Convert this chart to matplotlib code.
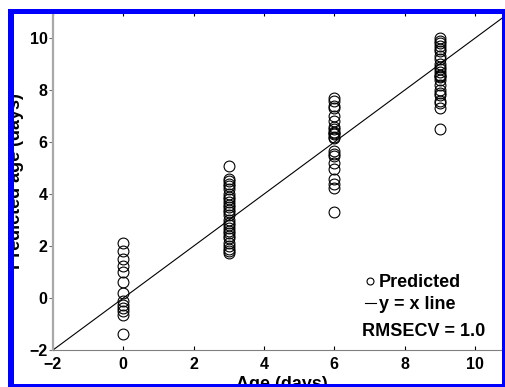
import matplotlib
matplotlib.use("Agg")
import matplotlib.pyplot as plt
from matplotlib.patches import Rectangle
from matplotlib.lines import Line2D

plt.rcParams['font.family'] = ['Liberation Sans', 'DejaVu Sans']
plt.rcParams['font.weight'] = 'bold'

# measured age (days) and cross-validated predictions
age_0 = [2.1, 1.8, 1.5, 1.25, 1.0, 0.6, 0.2, -0.1, -0.25, -0.4, -0.5, -0.65, -1.4]
age_3 = [5.1, 4.6, 4.5, 4.4, 4.3, 4.2, 4.0, 3.9, 3.8, 3.7, 3.6, 3.5, 3.4, 3.3,
         3.2, 3.0, 2.9, 2.8, 2.7, 2.6, 2.5, 2.4, 2.3, 2.1, 2.0, 1.9, 1.8, 1.75]
age_6 = [7.7, 7.6, 7.4, 7.3, 7.0, 6.8, 6.6, 6.5, 6.4, 6.35, 6.3, 6.2, 6.15,
         5.65, 5.55, 5.45, 5.2, 4.95, 4.6, 4.4, 4.25, 3.3]
age_9 = [10.0, 9.9, 9.8, 9.7, 9.6, 9.5, 9.3, 9.2, 9.0, 8.9, 8.8, 8.7, 8.6,
         8.55, 8.5, 8.4, 8.2, 8.0, 7.9, 7.8, 7.6, 7.5, 7.3, 6.5]
groups = {0: age_0, 3: age_3, 6: age_6, 9: age_9}
line_x = [-2, 11]
rmsecv = 1.0
ticks = [-2, 0, 2, 4, 6, 8, 10]

W, H = 505, 387
fig = plt.figure(figsize=(W / 100, H / 100), dpi=100)
ax = fig.add_axes([53 / W, 37 / H, 457 / W, 337.7 / H])

xs, ys = [], []
for k, vals in groups.items():
    xs += [k] * len(vals)
    ys += vals
ax.plot(xs, ys, 'o', mfc='none', mec='black', ms=7.8, mew=0.8, zorder=3)
ax.plot(line_x, line_x, color='black', lw=0.8, zorder=2)

ax.set_xlim(-2, 11)
ax.set_ylim(-2, 11)
ax.set_xticks(ticks)
ax.set_yticks(ticks)
ax.tick_params(axis='x', direction='in', length=3, pad=5, top=True, labelsize=11.5, colors='black')
ax.tick_params(axis='y', direction='out', length=3, pad=1, width=0.8, labelsize=11.5, color='#707070')
ax.spines['left'].set_color('#a8a8a8')
ax.spines['left'].set_linewidth(1.6)
ax.spines['bottom'].set_color('#808080')
ax.spines['top'].set_visible(False)
ax.spines['right'].set_visible(False)

ax.set_xlabel('Age (days)', fontsize=13, fontweight='bold', labelpad=3)
ax.set_ylabel('Predicted age (days)', fontsize=13, fontweight='bold', labelpad=4)

handles = [Line2D([], [], marker='o', ls='none', mfc='none', mec='black', ms=5, mew=0.8),
           Line2D([], [], color='black', lw=0.8)]
ax.legend(handles, ['Predicted', 'y = x line'], loc='upper left',
          bbox_to_anchor=(312 / 457, 76 / 337.7), frameon=False, fontsize=13,
          handlelength=0.6, handletextpad=0.15, labelspacing=0.3, borderpad=0, borderaxespad=0)
ax.text(6.79, -1.28, 'RMSECV = %.1f' % rmsecv, fontsize=13, fontweight='bold', va='center')

# blue frame around the picture
for (x0, y0, w, h, c) in [(0, 0, 8, H, 'white'), (0, H - 9, W, 9, 'white'),
                          (8, 0, 6, H - 9, 'blue'), (8, H - 14, W - 8, 5, 'blue'),
                          (502, 0, 3, H - 9, 'blue'), (8, 0, W - 8, 3, 'blue')]:
    fig.add_artist(Rectangle((x0 / W, y0 / H), w / W, h / H, transform=fig.transFigure,
                             facecolor=c, edgecolor='none', zorder=10))

fig.savefig('out.png', dpi=100)
